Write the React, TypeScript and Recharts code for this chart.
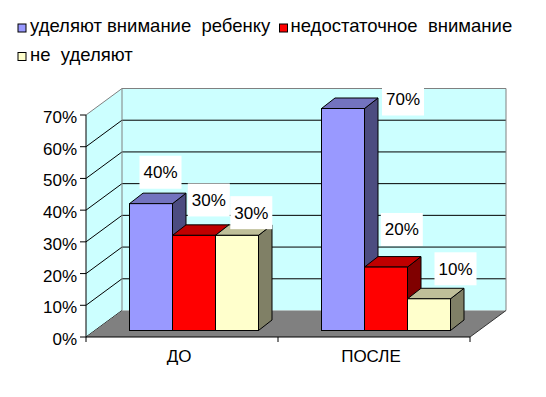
import React from 'react';
import { BarChart, Bar, XAxis, YAxis, ReferenceArea, LabelList, Legend } from 'recharts';

const categories = ['ДО', 'ПОСЛЕ'];
const attentive = [0.4, 0.7];
const insufficient = [0.3, 0.2];
const notAttentive = [0.3, 0.1];
const seriesNames = ['уделяют внимание  ребенку', 'недостаточное  внимание', 'не  уделяют'];
const yTicks = [0, 0.1, 0.2, 0.3, 0.4, 0.5, 0.6, 0.7];

const data = categories.map((c, i) => ({
  name: c,
  a: attentive[i],
  b: insufficient[i],
  c: notAttentive[i],
}));

const FONT = '"Liberation Sans", Arial, sans-serif';
const AXIS_FS = 17;
const LEGEND_FS = 18.5;
const Y_MAX = yTicks[yTicks.length - 1];
const DEPTH = { dx: 36, dy: -26.5 };
const SHIFT = { dx: 11.5, dy: -6.5 };
const BAR_DEPTH = { dx: 13.5, dy: -10.5 };

const SERIES = [
  { key: 'a', front: '#9999FF', top: '#7373BF', side: '#4C4C80' },
  { key: 'b', front: '#FF0000', top: '#BF0000', side: '#800000' },
  { key: 'c', front: '#FFFFCC', top: '#BFBF99', side: '#808066' },
];

// label offsets (px) relative to the bar's front-top centre
const LABEL_OFFSETS = [
  [[9.5, -31.4], [60, -9.5]],
  [[14.8, -35.4], [15.8, -37.6]],
  [[14.3, -22.7], [26.5, -30]],
];

const LEGEND_POS = [
  { x: 18, y: 24, tx: 30 },
  { x: 279.5, y: 24, tx: 290.5 },
  { x: 18, y: 52.5, tx: 30 },
];

const make3DBar = (s: any) => (props: any) => {
  const { x, y, width, height } = props;
  if (width == null || height == null) return <g />;
  const fx = x + SHIFT.dx;
  const fy = y + SHIFT.dy;
  const { dx, dy } = BAR_DEPTH;
  const side = `${fx + width},${fy} ${fx + width + dx},${fy + dy} ${fx + width + dx},${fy + height + dy} ${fx + width},${fy + height}`;
  const top = `${fx},${fy} ${fx + dx},${fy + dy} ${fx + width + dx},${fy + dy} ${fx + width},${fy}`;
  return (
    <g>
      <polygon points={side} fill={s.side} stroke="#000" strokeWidth={1} strokeLinejoin="round" />
      <polygon points={top} fill={s.top} stroke="#000" strokeWidth={1} strokeLinejoin="round" />
      <rect x={fx} y={fy} width={width} height={height} fill={s.front} stroke="#000" strokeWidth={1} />
    </g>
  );
};

const makeLabel = (si: number) => (props: any) => {
  const vb = props.viewBox && props.viewBox.width != null ? props.viewBox : props;
  const { x, y, width } = vb;
  const idx = props.index ?? 0;
  const off = LABEL_OFFSETS[si][idx] || [0, -20];
  const cx = x + width / 2 + SHIFT.dx + off[0];
  const cy = y + SHIFT.dy + off[1];
  return (
    <g>
      <rect x={cx - 21} y={cy - 16.5} width={42} height={33} fill="#FFFFFF" />
      <text x={cx} y={cy + 6} textAnchor="middle" fontFamily={FONT} fontSize={AXIS_FS} fill="#000">
        {Math.round(Number(props.value) * 100) + '%'}
      </text>
    </g>
  );
};

const Background = (props: any) => {
  const { x, y, width, height } = props;
  const L = x;
  const R = x + width;
  const B = y + height;
  const { dx, dy } = DEPTH;
  const yOf = (v: number) => B - (v / Y_MAX) * height;
  const T = yOf(Y_MAX);
  return (
    <g>
      <polygon
        points={`${L + dx},${T + dy} ${R + dx},${T + dy} ${R + dx},${B + dy} ${L + dx},${B + dy}`}
        fill="#CCFFFF"
      />
      <polygon points={`${L},${T} ${L + dx},${T + dy} ${L + dx},${B + dy} ${L},${B}`} fill="#CCFFFF" />
      {yTicks.map((v) => {
        const yy = yOf(v);
        const top = v === Y_MAX;
        return (
          <g key={v}>
            <line x1={L} y1={yy} x2={L + dx} y2={yy + dy} stroke={top ? '#808080' : '#000'} strokeWidth={1} />
            {v > 0 && (
              <line x1={L + dx} y1={yy + dy} x2={R + dx} y2={yy + dy} stroke={top ? '#808080' : '#000'} strokeWidth={1} />
            )}
          </g>
        );
      })}
      <line x1={L + dx} y1={T + dy} x2={L + dx} y2={B + dy} stroke="#808080" strokeWidth={1} />
      <line x1={R + dx} y1={T + dy} x2={R + dx} y2={B + dy} stroke="#808080" strokeWidth={1} />
      <polygon
        points={`${L},${B} ${L + dx},${B + dy} ${R + dx},${B + dy} ${R},${B}`}
        fill="#808080"
      />
      <line x1={R} y1={B} x2={R + dx} y2={B + dy} stroke="#333" strokeWidth={1} />
    </g>
  );
};

const XTick = (props: any) => {
  const { x, y, payload, index, visibleTicksCount } = props;
  const half = payload && typeof payload.offset === 'number' && payload.offset > 0 ? payload.offset : 96;
  const last = visibleTicksCount != null ? index === visibleTicksCount - 1 : index === categories.length - 1;
  return (
    <g>
      <line x1={x - half} y1={y} x2={x - half} y2={y + 5} stroke="#000" />
      {last && <line x1={x + half} y1={y} x2={x + half} y2={y + 5} stroke="#000" />}
      <text x={x - 3} y={y + 25} textAnchor="middle" fontFamily={FONT} fontSize={AXIS_FS} fill="#000">
        {payload.value}
      </text>
    </g>
  );
};

const LegendContent = () => (
  <svg width={546} height={70} style={{ display: 'block' }}>
    {SERIES.map((s, i) => (
      <g key={s.key}>
        <rect x={LEGEND_POS[i].x} y={LEGEND_POS[i].y} width={8} height={8} fill={s.front} stroke="#000" strokeWidth={1} />
        <text
          x={LEGEND_POS[i].tx}
          y={LEGEND_POS[i].y + 8}
          fontFamily={FONT}
          fontSize={LEGEND_FS}
          fill="#000"
          style={{ whiteSpace: 'pre' }}
          xmlSpace="preserve"
        >
          {seriesNames[i]}
        </text>
      </g>
    ))}
  </svg>
);

export default function App() {
  return (
    <div style={{ position: 'absolute', left: 0, top: 0, width: 546, height: 397, background: '#FFFFFF' }}>
      <BarChart
        width={546}
        height={397}
        data={data}
        margin={{ top: 115, right: 76, bottom: 30, left: 26 }}
        barSize={43}
        barGap={0}
        barCategoryGap={0}
      >
        <ReferenceArea y1={0} y2={Y_MAX} shape={Background} ifOverflow="visible" zIndex={-100} />
        <XAxis
          dataKey="name"
          height={30}
          axisLine={{ stroke: '#000' }}
          tickLine={false}
          tickSize={0}
          tickMargin={0}
          tick={<XTick />}
          interval={0}
        />
        <YAxis
          width={60}
          domain={[0, Y_MAX]}
          ticks={yTicks}
          interval={0}
          tickFormatter={(v: number) => Math.round(v * 100) + '%'}
          axisLine={{ stroke: '#000' }}
          tickLine={{ stroke: '#000' }}
          tickSize={6}
          tickMargin={3}
          tick={{ fill: '#000', fontSize: AXIS_FS, fontFamily: FONT, dy: 2 }}
        />
        <Legend
          layout="horizontal"
          verticalAlign="middle"
          align="center"
          wrapperStyle={{ top: 0, left: 0, width: 546, height: 70 }}
          content={<LegendContent />}
        />
        {SERIES.map((s, i) => (
          <Bar key={s.key} dataKey={s.key} name={seriesNames[i]} fill={s.front} isAnimationActive={false} shape={make3DBar(s)}>
            <LabelList dataKey={s.key} content={makeLabel(i)} />
          </Bar>
        ))}
      </BarChart>
    </div>
  );
}
